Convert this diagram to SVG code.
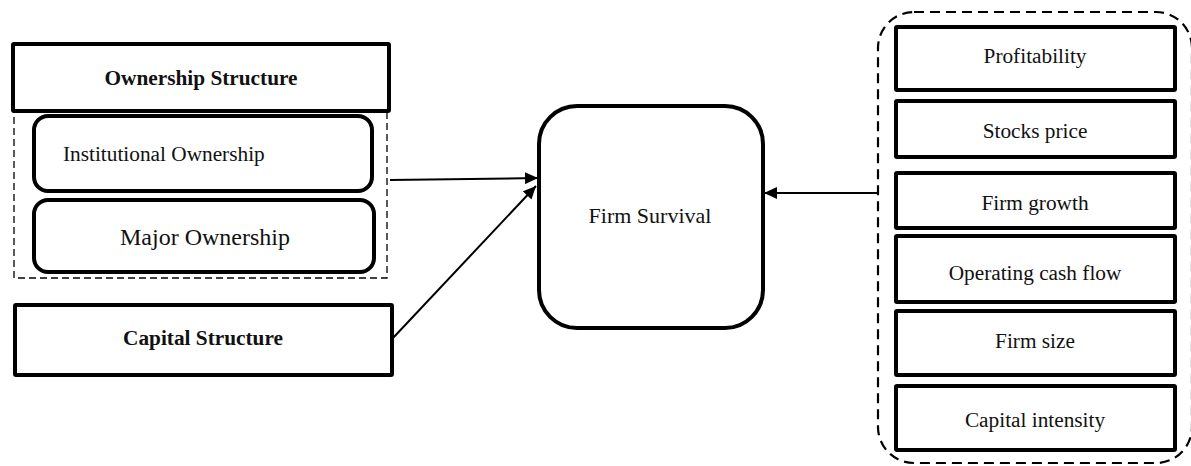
<svg xmlns="http://www.w3.org/2000/svg" width="1191" height="466" viewBox="0 0 1191 466">
<style>
.box{fill:#fff;stroke:#000;stroke-width:4}
text{font-family:'Liberation Serif','Times New Roman',Tinos,'DejaVu Serif',serif;fill:#111;font-size:21.3px}
.b{font-weight:bold}
.c{text-anchor:middle}
.dash{fill:none;stroke:#000}
.conn{stroke:#000;stroke-width:2;fill:none}
</style>
<defs>
<marker id="ah" viewBox="0 0 13 12" refX="13" refY="6" markerWidth="13" markerHeight="12" orient="auto" markerUnits="userSpaceOnUse">
<path d="M0,0 L13,6 L0,12 z" fill="#000"/>
</marker>
</defs>
<rect width="1191" height="466" fill="#fff"/>
<g id="ownership-group">
<rect class="dash" x="14" y="111" width="373" height="167" stroke-width="1.3" stroke-dasharray="7,4"/>
</g>
<g id="ownership-structure">
<rect class="box" x="13" y="44" width="376" height="67" rx="1"/>
<text class="b c" x="201" y="85">Ownership Structure</text>
</g>
<g id="institutional-ownership">
<rect class="box" x="34" y="116" width="338" height="75" rx="14"/>
<text x="63" y="161">Institutional Ownership</text>
</g>
<g id="major-ownership">
<rect class="box" x="34" y="200" width="340" height="72" rx="14"/>
<text x="120" y="245" style="font-size:24px">Major Ownership</text>
</g>
<g id="capital-structure">
<rect class="box" x="15" y="305" width="377" height="70" rx="1"/>
<text class="b c" x="203" y="345">Capital Structure</text>
</g>
<g id="firm-survival">
<rect class="box" x="539" y="106" width="224" height="222" rx="38"/>
<text class="c" x="650" y="223" style="font-size:22px">Firm Survival</text>
</g>
<g id="determinants-group">
<rect class="dash" x="878" y="12" width="314" height="451" rx="36" stroke-width="2.2" stroke-dasharray="10,6"/>
</g>
<g id="profitability">
<rect class="box" x="896" y="27" width="279" height="63" rx="1"/>
<text class="c" x="1035" y="63">Profitability</text>
</g>
<g id="stocks-price">
<rect class="box" x="896" y="101" width="279" height="56" rx="1"/>
<text class="c" x="1035" y="138">Stocks price</text>
</g>
<g id="firm-growth">
<rect class="box" x="896" y="173" width="279" height="55" rx="1"/>
<text class="c" x="1035" y="210">Firm growth</text>
</g>
<g id="operating-cash-flow">
<rect class="box" x="896" y="236" width="279" height="66" rx="1"/>
<text class="c" x="1035" y="280">Operating cash flow</text>
</g>
<g id="firm-size">
<rect class="box" x="896" y="311" width="279" height="64" rx="1"/>
<text class="c" x="1035" y="348">Firm size</text>
</g>
<g id="capital-intensity">
<rect class="box" x="896" y="386" width="279" height="64" rx="1"/>
<text class="c" x="1035" y="427">Capital intensity</text>
</g>
<g id="connectors">
<line class="conn" x1="390" y1="180" x2="538" y2="178" marker-end="url(#ah)"/>
<line class="conn" x1="393" y1="338" x2="536" y2="186" marker-end="url(#ah)"/>
<line class="conn" x1="878" y1="193" x2="764" y2="193" marker-end="url(#ah)"/>
</g>
</svg>
